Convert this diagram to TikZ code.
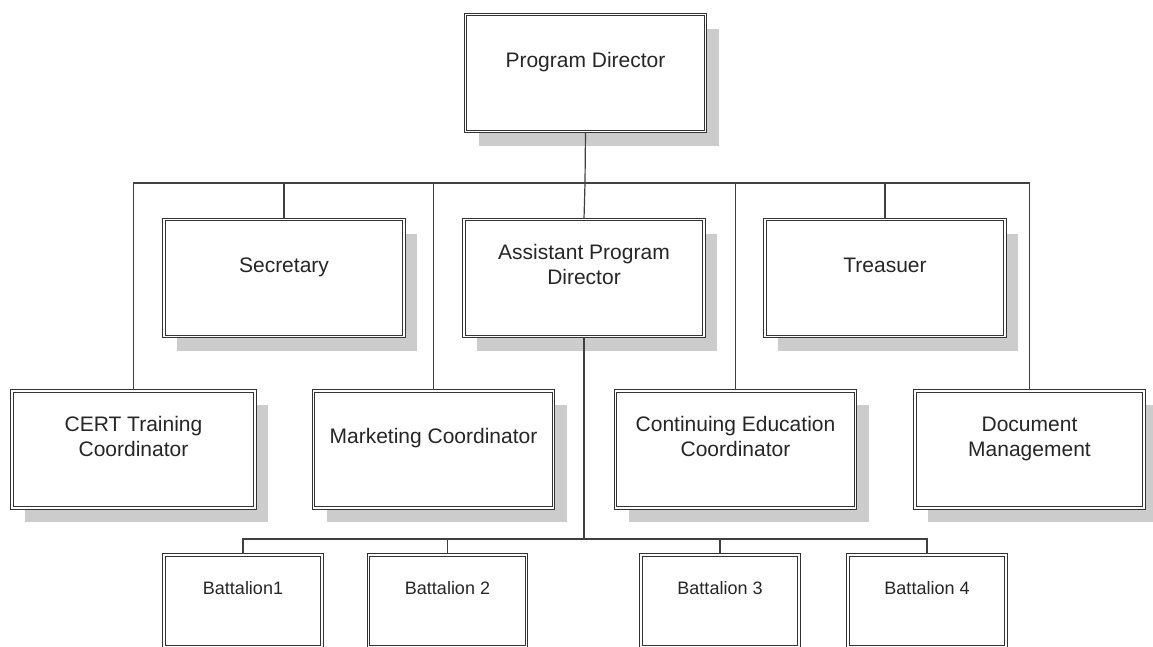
\documentclass[tikz,border=0pt]{standalone}
\usepackage{fontspec}
\setmainfont{Liberation Sans}
\usetikzlibrary{shadows}

% text sits a little above the middle of each box
\newcommand{\boxtext}[1]{\raisebox{11pt}[\height][\depth]{\begin{tabular}{@{}c@{}}#1\end{tabular}}}

\begin{document}
\begin{tikzpicture}[x=1pt, y=-1pt,
		wire/.style={draw=black!75, line width=1.2pt},
		boxbase/.style={draw=black!80, line width=1.1pt, double=white, double distance=1.6pt,
			fill=white, inner sep=0pt, text=black!85},
		post/.style={boxbase, minimum width=240pt, minimum height=117pt,
			font=\fontsize{21}{25}\selectfont,
			drop shadow={shadow xshift=13pt, shadow yshift=-14pt, fill=black!20, opacity=1}},
		unit/.style={boxbase, minimum width=158pt, minimum height=92pt,
			font=\fontsize{18}{22}\selectfont}]
		\path[use as bounding box, clip] (0,0) rectangle (1153,646);

		% Draw the top box
		\node[post] (pd) at (585.5,73) {\boxtext{Program Director}};

		% Draw the second row
		\node[post] (sec) at (284,278) {\boxtext{Secretary}};
		\node[post] (apd) at (584,278) {\boxtext{Assistant Program\\Director}};
		\node[post] (tre) at (885,278) {\boxtext{Treasuer}};

		% Draw the third row
		\node[post, minimum width=243pt] (cert) at (133.5,449.5) {\boxtext{CERT Training\\Coordinator}};
		\node[post] (mkt) at (433.5,449.5) {\boxtext{Marketing Coordinator}};
		\node[post] (ced) at (735.5,449.5) {\boxtext{Continuing Education\\Coordinator}};
		\node[post, minimum width=229pt] (doc) at (1029.5,449.5) {\boxtext{Document\\Management}};

		% Draw the battalions
		\node[unit] (bat1) at (243,601) {\boxtext{Battalion1}};
		\node[unit] (bat2) at (447.5,601) {\boxtext{Battalion 2}};
		\node[unit] (bat3) at (720,601) {\boxtext{Battalion 3}};
		\node[unit] (bat4) at (927,601) {\boxtext{Battalion 4}};

		% Draw the upper bus
		\coordinate (topbus) at (585,183);
		\draw[wire] (pd.south) -- (topbus);
		\draw[wire] (topbus) -- (apd.north);
		\draw[wire] (cert.north) |- (topbus);
		\draw[wire] (sec.north) |- (topbus);
		\draw[wire] (mkt.north) |- (topbus);
		\draw[wire] (ced.north) |- (topbus);
		\draw[wire] (tre.north) |- (topbus);
		\draw[wire] (doc.north) |- (topbus);

		% Draw the lower bus
		\coordinate (lowbus) at (584,539);
		\draw[wire] (apd.south) -- (lowbus);
		\draw[wire] (bat1.north) |- (lowbus);
		\draw[wire] (bat2.north) |- (lowbus);
		\draw[wire] (bat3.north) |- (lowbus);
		\draw[wire] (bat4.north) |- (lowbus);

	\end{tikzpicture}
\end{document}
